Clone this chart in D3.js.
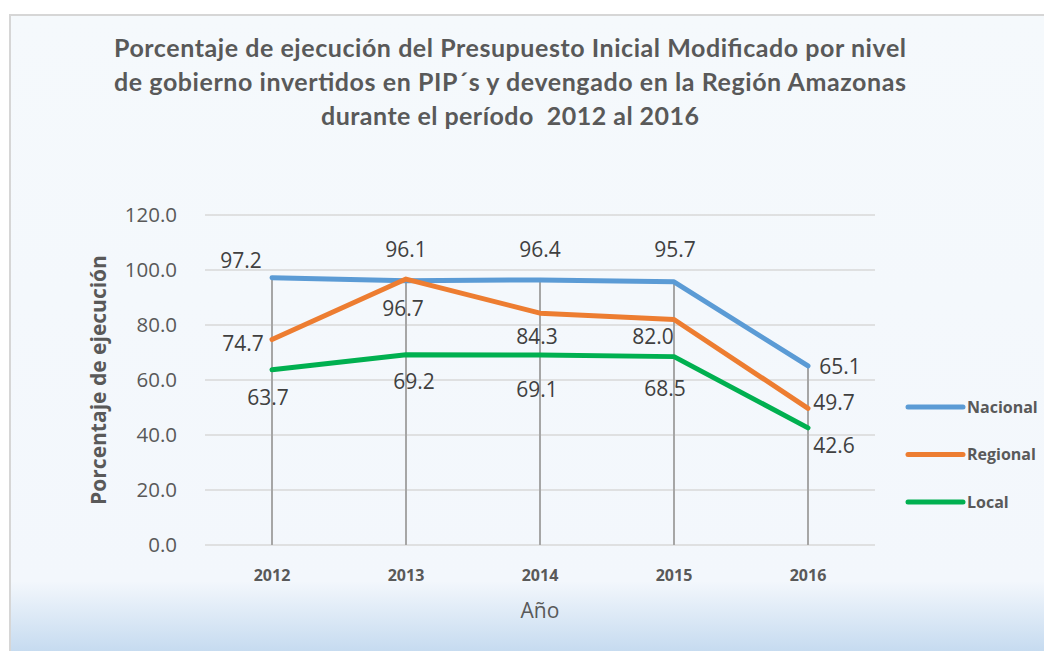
<!DOCTYPE html>
<html>
<head>
<meta charset="utf-8">
<script src="https://cdn.jsdelivr.net/npm/d3@7"></script>
<style>
  html, body { margin: 0; padding: 0; background: #fff; }
  svg { display: block; }
</style>
</head>
<body>
<script>
// Data
const years = ["2012", "2013", "2014", "2015", "2016"];
const nacional = [97.2, 96.1, 96.4, 95.7, 65.1];
const regional = [74.7, 96.7, 84.3, 82.0, 49.7];
const local = [63.7, 69.2, 69.1, 68.5, 42.6];
const seriesNames = ["Nacional", "Regional", "Local"];
const yTicks = [0, 20, 40, 60, 80, 100, 120];

const width = 1044, height = 651;
const colors = { Nacional: "#5b9bd5", Regional: "#ed7d31", Local: "#00b050" };

// label nudges (px) relative to each point, Excel-like manual placement
const labelNudge = {
  Nacional: [[-31, -17], [0, -31], [0, -30], [1, -32], [32, 0]],
  Regional: [[-29, 4], [-3, 29], [-3, 23], [-21, 17], [26, -6]],
  Local: [[-4, 28], [8, 27], [-3, 34], [-9, 32], [26, 18]]
};

const series = [
  { name: "Nacional", values: nacional },
  { name: "Regional", values: regional },
  { name: "Local", values: local }
];

const svg = d3.select("body").append("svg")
  .attr("width", width)
  .attr("height", height);

// background gradient
const defs = svg.append("defs");
const grad = defs.append("linearGradient")
  .attr("id", "bg")
  .attr("gradientUnits", "userSpaceOnUse")
  .attr("x1", 0).attr("y1", 15).attr("x2", 0).attr("y2", 651);
grad.append("stop").attr("offset", 0).attr("stop-color", "#f5f9fc");
grad.append("stop").attr("offset", 0.89).attr("stop-color", "#f3f7fc");
grad.append("stop").attr("offset", 1).attr("stop-color", "#c6dbf0");

svg.append("rect")
  .attr("x", 10).attr("y", 15)
  .attr("width", 1060).attr("height", 660)
  .attr("fill", "url(#bg)")
  .attr("stroke", "#d6d6d6")
  .attr("stroke-width", 2);

// Title
const titleLines = [
  "Porcentaje de ejecución del Presupuesto Inicial Modificado por nivel",
  "de gobierno invertidos en PIP´s y devengado en la Región Amazonas",
  "durante el período  2012 al 2016"
];
const titleWidths = [792, 792, 378];
svg.append("g")
  .selectAll("text")
  .data(titleLines)
  .join("text")
  .attr("x", 510)
  .attr("y", (d, i) => 57 + i * 34)
  .attr("text-anchor", "middle")
  .attr("textLength", (d, i) => titleWidths[i])
  .attr("lengthAdjust", "spacing")
  .attr("fill", "#595959")
  .style("font", "bold 25px Lato, sans-serif")
  .style("white-space", "pre")
  .text(d => d);

// Scales
const x = d3.scalePoint().domain(years).range([272, 808]);
const y = d3.scaleLinear().domain([0, 120]).range([545, 215]);

// Gridlines
svg.append("g")
  .selectAll("line")
  .data(yTicks)
  .join("line")
  .attr("x1", 205).attr("x2", 875)
  .attr("y1", d => y(d)).attr("y2", d => y(d))
  .attr("stroke", "#d9d9d9")
  .attr("stroke-width", 1.5);

// Y tick labels
svg.append("g")
  .selectAll("text")
  .data(yTicks)
  .join("text")
  .attr("x", 177)
  .attr("y", d => y(d))
  .attr("dy", "0.36em")
  .attr("text-anchor", "end")
  .attr("fill", "#595959")
  .style("font", "20.5px 'Open Sans', sans-serif")
  .text(d => d3.format(".1f")(d));

// Y axis title
svg.append("text")
  .attr("transform", "translate(106,380) rotate(-90)")
  .attr("text-anchor", "middle")
  .attr("fill", "#595959")
  .style("font", "bold 21px 'Open Sans', sans-serif")
  .text("Porcentaje de ejecución");

// X tick labels
svg.append("g")
  .selectAll("text")
  .data(years)
  .join("text")
  .attr("x", d => x(d))
  .attr("y", 581)
  .attr("text-anchor", "middle")
  .attr("fill", "#595959")
  .style("font", "bold 16px 'Open Sans', sans-serif")
  .text(d => d);

// X axis title
svg.append("text")
  .attr("x", 540)
  .attr("y", 618)
  .attr("text-anchor", "middle")
  .attr("fill", "#595959")
  .style("font", "21px 'Open Sans', sans-serif")
  .text("Año");

// Drop lines
svg.append("g")
  .selectAll("line")
  .data(years)
  .join("line")
  .attr("x1", d => x(d)).attr("x2", d => x(d))
  .attr("y1", (d, i) => y(d3.max(series, s => s.values[i])))
  .attr("y2", y(0))
  .attr("stroke", "#a6a6a6")
  .attr("stroke-width", 2);

// Lines
const line = d3.line()
  .x((d, i) => x(years[i]))
  .y(d => y(d));

svg.append("g")
  .selectAll("path")
  .data(series)
  .join("path")
  .attr("d", s => line(s.values))
  .attr("fill", "none")
  .attr("stroke", s => colors[s.name])
  .attr("stroke-width", 5)
  .attr("stroke-linejoin", "round")
  .attr("stroke-linecap", "round");

// Data labels
series.forEach(s => {
  svg.append("g")
    .selectAll("text")
    .data(s.values)
    .join("text")
    .attr("x", (d, i) => x(years[i]) + labelNudge[s.name][i][0])
    .attr("y", (d, i) => y(d) + labelNudge[s.name][i][1])
    .attr("dy", "0.36em")
    .attr("text-anchor", "middle")
    .attr("fill", "#404040")
    .style("font", "21px 'Open Sans', sans-serif")
    .text(d => d3.format(".1f")(d));
});

// Legend
const legend = svg.append("g")
  .selectAll("g")
  .data(seriesNames)
  .join("g")
  .attr("transform", (d, i) => `translate(908,${407 + i * 47.5})`);

legend.append("line")
  .attr("x1", 0).attr("x2", 55)
  .attr("stroke", d => colors[d])
  .attr("stroke-width", 5)
  .attr("stroke-linecap", "round");

legend.append("text")
  .attr("x", 59)
  .attr("dy", "0.36em")
  .attr("fill", "#595959")
  .style("font", "bold 16px 'Open Sans', sans-serif")
  .text(d => d);
</script>
</body>
</html>
